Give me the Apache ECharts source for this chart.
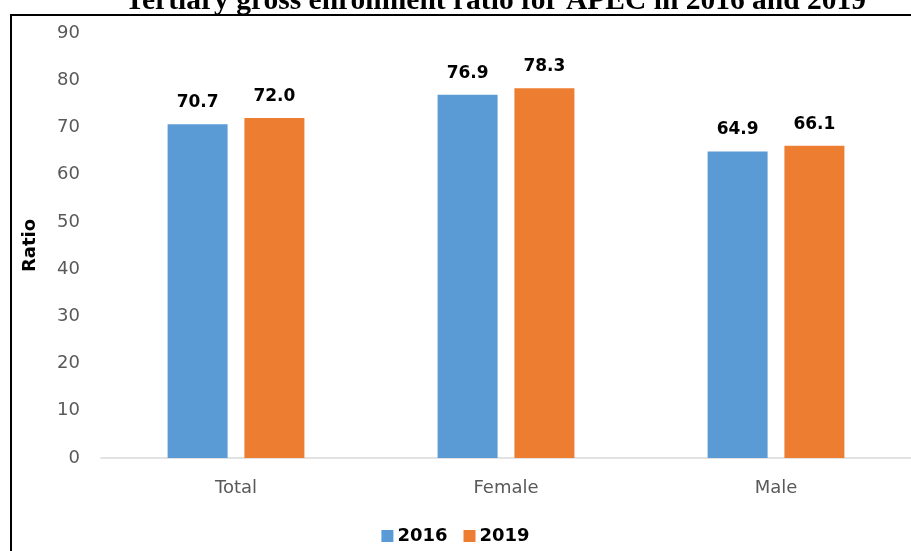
<!DOCTYPE html>
<html><head><meta charset="utf-8">
<script src="https://cdn.jsdelivr.net/npm/echarts@6/dist/echarts.min.js"></script>
<style>html,body{margin:0;padding:0;background:#fff}#c{width:911px;height:551px}</style>
</head><body><div id="c"></div>
<script>
const titleText = 'Tertiary gross enrollment ratio for APEC in 2016 and 2019';
const categories = ['Total', 'Female', 'Male'];
const seriesNames = ['2016', '2019'];
const values2016 = [70.7, 76.9, 64.9];
const values2019 = [72.0, 78.3, 66.1];
const yTicks = {min: 0, max: 90, interval: 10};
const yName = 'Ratio';

const FONT = 'DejaVu Sans';
const chart = echarts.init(document.getElementById('c'));
const labelStyle = {show: true, position: 'top', distance: 13, color: '#000', fontWeight: 'bold', fontSize: 17, fontFamily: FONT, formatter: p => p.value.toFixed(1)};
chart.setOption({
  animation: false,
  title: {text: titleText, left: 120, top: -19, textStyle: {fontFamily: 'Liberation Serif', fontWeight: 'bold', fontSize: 29.5, color: '#000'}},
  graphic: [{type: 'rect', shape: {x: 11, y: 15, width: 950, height: 600}, style: {fill: 'none', stroke: '#000', lineWidth: 2}, z: 100}],
  legend: {bottom: 1, left: 'center', itemWidth: 12, itemHeight: 12, itemGap: 16, icon: 'rect', textStyle: {fontFamily: FONT, fontWeight: 'bold', fontSize: 18, color: '#000', padding: [0, 0, 0, -1]}, data: seriesNames},
  grid: {left: 101, right: 0, top: 33, bottom: 93, containLabel: false},
  xAxis: {type: 'category', data: categories, axisLine: {lineStyle: {color: '#d9d9d9', width: 1.5}}, axisTick: {show: false}, axisLabel: {color: '#595959', fontFamily: FONT, fontSize: 18, margin: 21}},
  yAxis: {type: 'value', min: yTicks.min, max: yTicks.max, interval: yTicks.interval, name: yName, nameLocation: 'middle', nameGap: 62, nameTextStyle: {fontFamily: FONT, fontWeight: 'bold', fontSize: 18, color: '#000'}, splitLine: {show: false}, axisLine: {show: false}, axisTick: {show: false}, axisLabel: {color: '#595959', fontFamily: FONT, fontSize: 18, margin: 21}},
  series: [
    {name: seriesNames[0], type: 'bar', data: values2016, itemStyle: {color: '#5B9BD5'}, barWidth: 60, barGap: '28%', label: labelStyle},
    {name: seriesNames[1], type: 'bar', data: values2019, itemStyle: {color: '#ED7D31'}, barWidth: 60, barGap: '28%', label: labelStyle}
  ]
});
</script></body></html>
